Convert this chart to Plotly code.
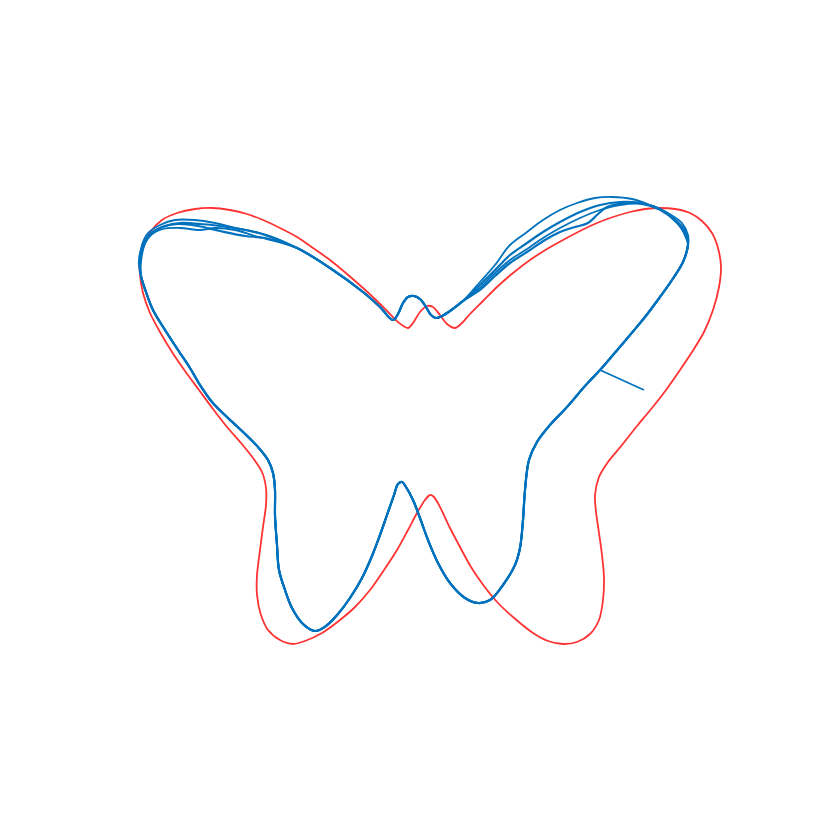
import plotly.graph_objects as go

# ---- target outline (red), pixel-like units (y down) ----
red_x = [408, 413, 420, 427, 433, 440, 447, 455, 462, 470, 483, 497, 513, 530, 547, 563, 580, 597, 613, 630, 645, 660, 675, 690, 702, 712, 718, 721, 719, 713, 704, 692, 680, 666, 652, 637, 622, 608, 599, 595, 596, 599, 602, 604, 603, 599, 590, 577, 563, 548, 533, 513, 498, 484, 471, 460, 449, 440, 434, 430, 425, 417, 408, 397, 384, 370, 355, 340, 322, 305, 293, 280, 268, 261, 257, 257, 260, 263, 266, 266, 262, 253, 241, 227, 213, 199, 185, 172, 160, 150, 143, 140, 140, 144, 151, 162, 177, 195, 212, 230, 247, 263, 280, 297, 313, 330, 347, 363, 377, 389, 398, 408]
red_y = [328, 323, 312, 306, 307, 315, 324, 328, 323, 314, 301, 287, 273, 260, 249, 240, 231, 223, 217, 212, 209, 208, 209, 213, 221, 233, 248, 267, 287, 310, 332, 352, 370, 390, 408, 426, 445, 462, 477, 495, 512, 533, 555, 578, 600, 620, 634, 642, 644, 641, 633, 617, 603, 586, 567, 547, 526, 507, 497, 495, 500, 513, 530, 550, 570, 590, 607, 620, 633, 641, 644, 640, 630, 615, 595, 575, 550, 527, 505, 488, 472, 458, 443, 427, 409, 390, 371, 352, 332, 313, 293, 275, 260, 244, 231, 220, 213, 209, 208, 210, 214, 220, 228, 237, 248, 260, 274, 288, 301, 313, 322, 328]

# ---- traced outline (blue): shared pieces ----
center_x = [393, 398, 403, 408, 414, 420, 426, 431, 436, 442, 450, 463]
center_y = [320, 314, 303, 297, 296, 299, 307, 315, 318, 316, 311, 301]

# right wing upper arcs, one per loop
rw_a_x = [480, 495, 510, 527, 543, 560, 577, 595, 612, 632, 650, 668, 682, 688]
rw_a_y = [282, 265, 245, 232, 220, 210, 203, 198, 197, 199, 205, 213, 223, 235]
rw_b_x = [480, 495, 510, 527, 543, 560, 580, 600, 620, 640, 658, 673, 685, 688]
rw_b_y = [285, 270, 255, 243, 232, 222, 212, 205, 202, 203, 208, 218, 230, 240]
rw_c_x = [480, 495, 510, 527, 543, 560, 580, 600, 620, 642, 660, 676, 686, 688]
rw_c_y = [288, 273, 260, 249, 238, 228, 218, 210, 205, 204, 210, 222, 235, 243]
rw_d_x = [480, 495, 510, 527, 545, 560, 575, 588, 597, 607, 625, 645, 665, 680, 687]
rw_d_y = [290, 276, 263, 252, 240, 232, 227, 223, 215, 207, 203, 204, 212, 226, 240]

# right side down, legs, bottom, left side up
body_x = [688, 683, 672, 660, 645, 630, 613, 600, 585, 567, 550, 537, 529, 525, 523, 520, 515, 503, 490, 478, 465, 450, 438, 428, 420, 413, 406, 402, 398, 394, 387, 380, 372, 362, 350, 338, 326, 315, 303, 292, 285, 279, 277, 275, 275, 273, 268, 258, 243, 227, 212, 200, 190, 178, 165, 153, 146, 141]
body_y = [245, 262, 280, 297, 317, 335, 355, 370, 386, 407, 425, 442, 460, 490, 520, 548, 565, 585, 600, 603, 598, 583, 563, 540, 518, 500, 487, 482, 484, 495, 515, 535, 556, 578, 598, 614, 626, 631, 624, 608, 590, 570, 545, 515, 490, 473, 460, 447, 432, 417, 402, 385, 368, 350, 330, 310, 292, 276]

# left wing upper arcs, one per loop
lw_a_x = [140, 142, 148, 160, 175, 195, 215, 235, 255, 270]
lw_a_y = [262, 245, 233, 225, 220, 220, 223, 228, 232, 236]
lw_b_x = [141, 145, 152, 165, 180, 200, 220, 240, 262]
lw_b_y = [260, 243, 233, 226, 223, 224, 226, 229, 234]
lw_c_x = [140, 143, 150, 163, 180, 200, 215, 235, 255]
lw_c_y = [265, 248, 236, 229, 228, 230, 228, 230, 236]
lw_d_x = [139, 142, 149, 162, 178, 198, 220, 245, 265]
lw_d_y = [262, 247, 235, 227, 224, 226, 231, 236, 238]

# descent of left wing back to the centre
back_x = [297, 330, 363, 380, 393]
back_y = [248, 268, 292, 307, 320]

# short stray stroke
tick_x = [600, 644]
tick_y = [370, 390]

BLUE = "#0072BD"
RED = "#FF3333"

fig = go.Figure()
fig.add_trace(go.Scatter(x=red_x, y=red_y, mode="lines",
                         line=dict(color=RED, width=1.8, shape="spline", smoothing=0.8),
                         hoverinfo="skip", showlegend=False))

loops = [(rw_a_x, rw_a_y, lw_a_x, lw_a_y), (rw_b_x, rw_b_y, lw_b_x, lw_b_y),
         (rw_c_x, rw_c_y, lw_c_x, lw_c_y), (rw_d_x, rw_d_y, lw_d_x, lw_d_y)]
for i, (rx, ry, lx, ly) in enumerate(loops):
    xs = center_x + rx + body_x + lx + back_x
    ys = center_y + ry + body_y + ly + back_y
    fig.add_trace(go.Scatter(x=xs, y=ys, mode="lines",
                             line=dict(color=BLUE, width=1.8 + 0.4 * (i % 2), shape="spline", smoothing=1.0),
                             hoverinfo="skip", showlegend=False))
fig.add_trace(go.Scatter(x=tick_x, y=tick_y, mode="lines",
                         line=dict(color=BLUE, width=1.8), hoverinfo="skip", showlegend=False))

fig.update_layout(width=833, height=833, margin=dict(l=0, r=0, t=0, b=0),
                  paper_bgcolor="white", plot_bgcolor="white",
                  xaxis=dict(range=[0, 833], visible=False, fixedrange=True),
                  yaxis=dict(range=[833, 0], visible=False, fixedrange=True))
fig.write_html("out.html")
